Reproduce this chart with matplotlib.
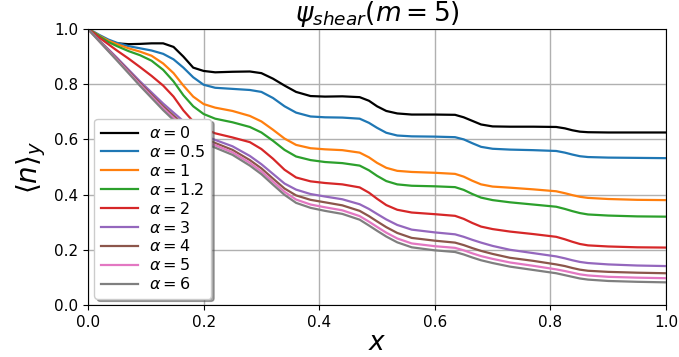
import matplotlib
matplotlib.use("Agg")
import matplotlib.pyplot as plt

# sample positions along x (shared by all curves)
x = [0, 0.01, 0.02, 0.035, 0.05, 0.07, 0.09, 0.11, 0.13, 0.148, 0.165, 0.182, 0.20,
     0.22, 0.25, 0.28, 0.30, 0.32, 0.34, 0.36, 0.385, 0.41, 0.44, 0.47, 0.486, 0.50,
     0.516, 0.535, 0.56, 0.60, 0.635, 0.65, 0.665, 0.68, 0.70, 0.73, 0.77, 0.81,
     0.825, 0.838, 0.851, 0.865, 0.90, 0.95, 1.0]

alphas = ["0", "0.5", "1", "1.2", "2", "3", "4", "5", "6"]
colors = ["black", "tab:blue", "tab:orange", "tab:green", "tab:red",
          "tab:purple", "tab:brown", "tab:pink", "tab:gray"]

n_a0 = [1.0, 0.985, 0.97, 0.955, 0.948, 0.945, 0.946, 0.948, 0.948, 0.935, 0.90, 0.86, 0.848,
        0.843, 0.845, 0.846, 0.84, 0.82, 0.795, 0.772, 0.757, 0.755, 0.756, 0.753, 0.74, 0.72,
        0.703, 0.694, 0.69, 0.69, 0.689, 0.68, 0.667, 0.654, 0.647, 0.646, 0.646, 0.645,
        0.64, 0.633, 0.628, 0.626, 0.625, 0.625, 0.625]
n_a05 = [1.0, 0.99, 0.978, 0.962, 0.95, 0.938, 0.93, 0.922, 0.91, 0.89, 0.86, 0.825, 0.798,
         0.787, 0.783, 0.779, 0.772, 0.75, 0.72, 0.697, 0.683, 0.68, 0.679, 0.675, 0.66, 0.642,
         0.624, 0.614, 0.611, 0.61, 0.608, 0.60, 0.586, 0.573, 0.566, 0.563, 0.561, 0.558,
         0.552, 0.545, 0.539, 0.536, 0.534, 0.533, 0.532]
n_a1 = [1.0, 0.988, 0.975, 0.958, 0.945, 0.93, 0.918, 0.903, 0.875, 0.84, 0.795, 0.755, 0.728,
        0.715, 0.703, 0.685, 0.665, 0.635, 0.603, 0.58, 0.568, 0.564, 0.561, 0.552, 0.535, 0.515,
        0.497, 0.486, 0.482, 0.479, 0.475, 0.465, 0.45, 0.437, 0.429, 0.425, 0.419, 0.412,
        0.405, 0.398, 0.392, 0.388, 0.384, 0.381, 0.38]
n_a12 = [1.0, 0.987, 0.973, 0.953, 0.938, 0.92, 0.905, 0.885, 0.852, 0.81, 0.76, 0.72, 0.692,
         0.675, 0.662, 0.645, 0.625, 0.595, 0.562, 0.538, 0.525, 0.518, 0.514, 0.505, 0.488, 0.468,
         0.449, 0.437, 0.432, 0.43, 0.427, 0.417, 0.402, 0.389, 0.38, 0.372, 0.364, 0.356,
         0.348, 0.34, 0.333, 0.328, 0.324, 0.321, 0.32]
n_a2 = [1.0, 0.985, 0.968, 0.945, 0.922, 0.893, 0.862, 0.83, 0.795, 0.755, 0.705, 0.665, 0.64,
        0.622, 0.607, 0.59, 0.565, 0.53, 0.49, 0.462, 0.448, 0.442, 0.437, 0.426, 0.407, 0.385,
        0.362, 0.345, 0.335, 0.329, 0.323, 0.312, 0.297, 0.284, 0.275, 0.266, 0.257, 0.247,
        0.238, 0.229, 0.221, 0.216, 0.212, 0.209, 0.208]
n_a3 = [1.0, 0.979, 0.958, 0.927, 0.896, 0.853, 0.81, 0.77, 0.73, 0.697, 0.666, 0.638, 0.615,
        0.598, 0.575, 0.54, 0.51, 0.475, 0.44, 0.418, 0.402, 0.393, 0.383, 0.365, 0.348, 0.33,
        0.31, 0.29, 0.273, 0.263, 0.256, 0.247, 0.236, 0.226, 0.214, 0.20, 0.188, 0.176,
        0.169, 0.162, 0.156, 0.152, 0.147, 0.143, 0.141]
n_a4 = [1.0, 0.978, 0.956, 0.924, 0.892, 0.848, 0.804, 0.762, 0.72, 0.686, 0.655, 0.628, 0.605,
        0.587, 0.562, 0.525, 0.495, 0.458, 0.422, 0.397, 0.381, 0.372, 0.361, 0.341, 0.322, 0.303,
        0.282, 0.261, 0.243, 0.233, 0.226, 0.217, 0.206, 0.196, 0.185, 0.171, 0.16, 0.147,
        0.141, 0.134, 0.128, 0.124, 0.12, 0.117, 0.115]
n_a5 = [1.0, 0.977, 0.955, 0.922, 0.889, 0.844, 0.799, 0.756, 0.713, 0.678, 0.647, 0.62, 0.597,
        0.579, 0.553, 0.515, 0.484, 0.447, 0.41, 0.382, 0.364, 0.354, 0.343, 0.322, 0.302, 0.283,
        0.262, 0.241, 0.223, 0.213, 0.207, 0.198, 0.187, 0.177, 0.167, 0.154, 0.142, 0.129,
        0.123, 0.117, 0.111, 0.107, 0.102, 0.099, 0.097]
n_a6 = [1.0, 0.977, 0.954, 0.92, 0.886, 0.84, 0.794, 0.75, 0.706, 0.67, 0.638, 0.611, 0.588,
        0.57, 0.544, 0.505, 0.474, 0.436, 0.399, 0.37, 0.352, 0.341, 0.33, 0.309, 0.288, 0.269,
        0.248, 0.227, 0.209, 0.198, 0.192, 0.183, 0.172, 0.162, 0.152, 0.139, 0.127, 0.115,
        0.108, 0.102, 0.096, 0.092, 0.087, 0.084, 0.082]

series = [n_a0, n_a05, n_a1, n_a12, n_a2, n_a3, n_a4, n_a5, n_a6]

fig = plt.figure(figsize=(6.79, 3.57), dpi=100)
ax = fig.add_axes([0.1296, 0.1457, 0.8513, 0.7731])

for a, c, y in zip(alphas, colors, series):
    ax.plot(x, y, color=c, lw=1.6, label=r"$\alpha = %s$" % a)

ax.set_xlim(0, 1)
ax.set_ylim(0, 1)
ax.grid(True, color="#b0b0b0", lw=1)
ax.tick_params(labelsize=11)
ax.set_title(r"$\psi_{shear}(m = 5)$", fontsize=19, pad=4)
ax.set_xlabel(r"$x$", fontsize=19, labelpad=0)
ax.set_ylabel(r"$\langle n \rangle_y$", fontsize=20)
ax.legend(loc="lower left", fontsize=11.5, shadow=True, handlelength=2.3,
          handletextpad=0.7, labelspacing=0.18, borderaxespad=0.4)

fig.savefig("out.png", dpi=100)
